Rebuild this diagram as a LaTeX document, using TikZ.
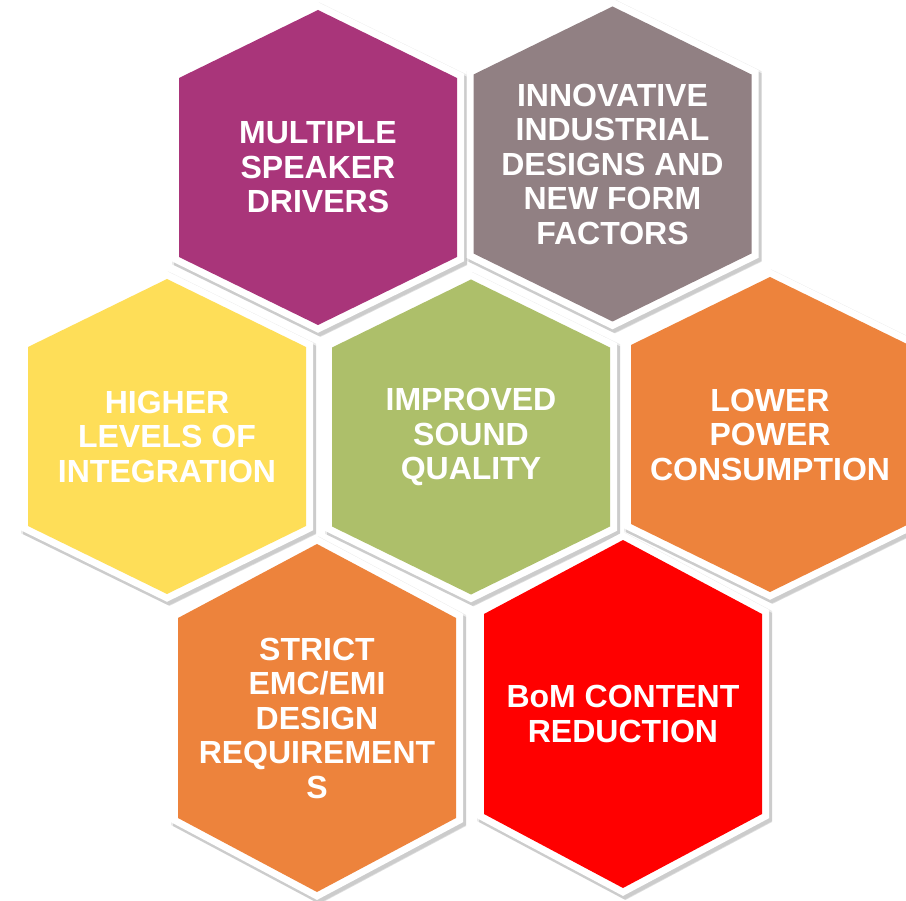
\documentclass[tikz,border=0pt]{standalone}
\usepackage{fontspec}
\setmainfont{Liberation Sans}
\definecolor{cpurple}{HTML}{A9357A}
\definecolor{cmauve}{HTML}{918083}
\definecolor{cyellow}{HTML}{FEDE58}
\definecolor{cgreen}{HTML}{ADBF6A}
\definecolor{corange}{HTML}{ED833C}
\definecolor{cred}{HTML}{FF0000}
\tikzset{
  hexlabel/.style={text=white, align=center, font=\bfseries\fontsize{32}{34.5}\selectfont, inner sep=0pt},
  hexborder/.style={fill=white, draw=white, line width=14pt, line join=miter},
  hexshadow/.style={fill=black, draw=black, line width=15pt, line join=miter, opacity=0.13}
}
% #1 name, #2 cx, #3 cy, #4 side half, #5 tip, #6 colour, #7 text
\newcommand\hexcell[7]{%
  \path[hexshadow, shift={(2.5,3.5)}] (#2,{#3-#4-#5}) -- ({#2+139},{#3-#4}) -- ({#2+139},{#3+#4}) -- (#2,{#3+#4+#5}) -- ({#2-139},{#3+#4}) -- ({#2-139},{#3-#4}) -- cycle;
  \path[hexshadow, opacity=0.08, line width=17pt, shift={(1.5,2)}] (#2,{#3-#4-#5}) -- ({#2+139},{#3-#4}) -- ({#2+139},{#3+#4}) -- (#2,{#3+#4+#5}) -- ({#2-139},{#3+#4}) -- ({#2-139},{#3-#4}) -- cycle;
  \path[hexborder] (#2,{#3-#4-#5}) -- ({#2+139},{#3-#4}) -- ({#2+139},{#3+#4}) -- (#2,{#3+#4+#5}) -- ({#2-139},{#3+#4}) -- ({#2-139},{#3-#4}) -- cycle;
  \fill[#6] (#2,{#3-#4-#5}) -- ({#2+139},{#3-#4}) -- ({#2+139},{#3+#4}) -- (#2,{#3+#4+#5}) -- ({#2-139},{#3+#4}) -- ({#2-139},{#3-#4}) -- cycle;
  \node[hexlabel] (#1) at (#2,#3) {#7};
}
\begin{document}
\begin{tikzpicture}[x=1pt, y=-1pt]
\useasboundingbox (0,0) rectangle (906,901);
\fill[white] (0,0) rectangle (906,901);
\hexcell{msd}{318}{167.5}{89.5}{68}{cpurple}{MULTIPLE\\SPEAKER\\DRIVERS}
\hexcell{iid}{612.5}{164}{89.5}{68}{cmauve}{INNOVATIVE\\INDUSTRIAL\\DESIGNS AND\\NEW FORM\\FACTORS}
\hexcell{hli}{167}{436.5}{89.5}{68}{cyellow}{HIGHER\\LEVELS OF\\INTEGRATION}
\hexcell{isq}{471}{437}{89.5}{68}{cgreen}{IMPROVED\\SOUND\\QUALITY}
\hexcell{lpc}{770}{434.5}{89.5}{68}{corange}{LOWER\\POWER\\CONSUMPTION}
\hexcell{emc}{317}{718}{100}{74}{corange}{STRICT\\EMC/EMI\\DESIGN\\REQUIREMENT\\S}
\hexcell{bom}{623}{714}{100}{74}{cred}{BoM CONTENT\\REDUCTION}
\end{tikzpicture}
\end{document}
